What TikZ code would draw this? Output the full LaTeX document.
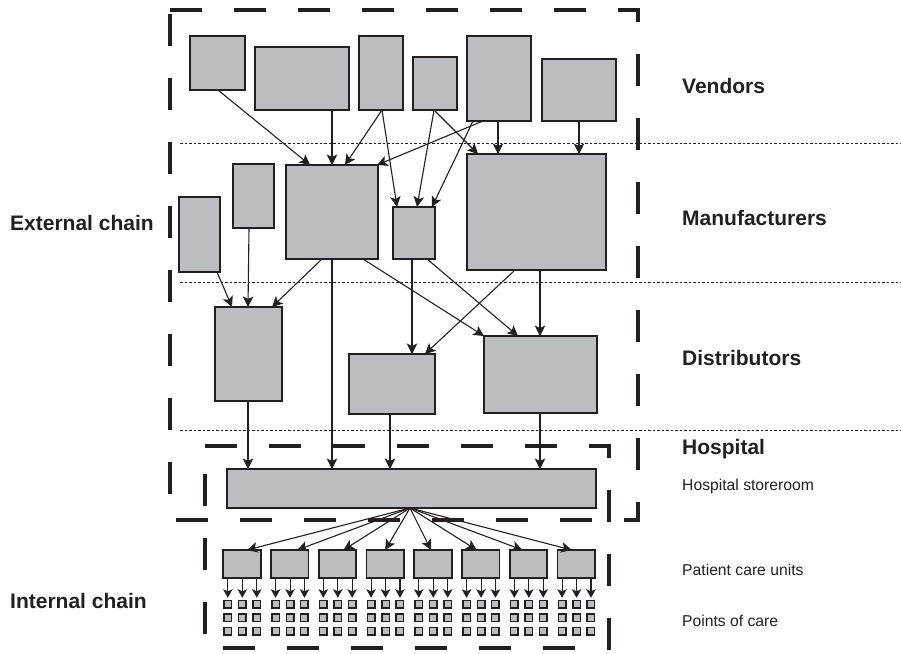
\documentclass[tikz,border=0pt]{standalone}
\usepackage{fontspec}
\setmainfont{Liberation Sans}
\usetikzlibrary{arrows.meta,calc}
\definecolor{boxgray}{RGB}{188,189,193}
\definecolor{ink}{RGB}{35,31,32}
\tikzset{
 box/.style={draw=ink, line width=1.8pt, fill=boxgray, inner sep=0pt, outer sep=0pt, anchor=north west},
 arr/.style={draw=ink, line width=1.1pt, -{Stealth[length=10.5pt,width=10.5pt,inset=2.5pt]}},
 sarr/.style={draw=ink, line width=1.1pt, -{Stealth[length=8.5pt,width=9.5pt,inset=2pt]}},
 frame/.style={draw=ink, line width=3.3pt, dash pattern=on 32pt off 32pt},
 sep/.style={draw=ink, line width=0.8pt, dash pattern=on 2.5pt off 2pt},
 head/.style={anchor=base west, inner sep=0pt, font=\fontsize{21}{25}\selectfont\bfseries, text=ink},
 sub/.style={anchor=base west, inner sep=0pt, font=\fontsize{15.7}{18}\selectfont, text=ink},
 dot/.style={draw=ink, line width=1.5pt, fill=boxgray, minimum size=7.5pt, inner sep=0pt, outer sep=0pt},
}
\newcommand\bx[5]{\node[box, minimum width={(#4-#2)*1pt}, minimum height={(#5-#3)*1pt}] (#1) at (#2,#3) {};}
\newcommand\ar[4]{\draw[arr] ($(#1.south west)+(#2,0)$) -- ($(#3.north west)+(#4,0)$);}
\begin{document}
\begin{tikzpicture}[x=1pt,y=-1pt]
\useasboundingbox (0,0) rectangle (901,653);
% separators
\coordinate (s1a) at (180,143); \coordinate (s1b) at (901,143);
\coordinate (s2a) at (180,282); \coordinate (s2b) at (901,282);
\coordinate (s3a) at (180,430); \coordinate (s3b) at (901,430);
\draw[sep] (s1a) -- (s1b);
\draw[sep] (s2a) -- (s2b);
\draw[sep] (s3a) -- (s3b);
% frames
\draw[frame] (170,10) -- (638,10) -- (638,520) -- (170,520) -- cycle;
\draw[frame] (205,446) -- (609,446) -- (609,648) -- (205,648) -- cycle;
% vendors
\bx{v1}{190}{36}{245}{90}
\bx{v2}{255}{47}{349}{110}
\bx{v3}{359}{36}{403}{110}
\bx{v4}{413}{57}{457}{110}
\bx{v5}{467}{36}{531}{121}
\bx{v6}{542}{59}{616}{121}
% manufacturers
\bx{m1}{179}{197}{220}{272}
\bx{m2}{233}{164}{274}{228}
\bx{m3}{286}{165}{378}{259}
\bx{m4}{393}{207}{435}{259}
\bx{m5}{467}{154}{606}{270}
% distributors
\bx{d1}{215}{307}{282}{401}
\bx{d2}{349}{354}{435}{414}
\bx{d3}{484}{336}{597}{413}
% storeroom
\bx{s}{227}{469}{596}{508}
% vendor -> manufacturer
\ar{v1}{28}{m3}{24}
\ar{v2}{77}{m3}{46}
\ar{v3}{23}{m3}{59}
\ar{v3}{23}{m4}{4}
\ar{v4}{21}{m4}{24}
\ar{v4}{21}{m5}{11}
\ar{v5}{16}{m3}{91}
\ar{v5}{6}{m4}{39}
\ar{v5}{31}{m5}{31}
\ar{v6}{37}{m5}{112}
% manufacturer -> distributor
\ar{m1}{38}{d1}{17}
\ar{m2}{16}{d1}{33}
\ar{m3}{36}{d1}{57}
\ar{m3}{46}{s}{105}
\ar{m3}{77}{d3}{0}
\ar{m4}{19}{d2}{63}
\ar{m4}{34}{d3}{34}
\ar{m5}{48}{d2}{76}
\ar{m5}{73}{d3}{56}
% distributor -> storeroom
\ar{d1}{33}{s}{21}
\ar{d2}{41}{s}{163}
\ar{d3}{56}{s}{313}
% internal chain
\coordinate (hub) at ($(s.south west)+(183,0)$);
\foreach \i/\off in {0/5,1/7.5,2/6,3/0,4/-2,5/-4,6/-6,7/-4.5} {
  \pgfmathsetmacro\c{242+47.75*\i}
  \node[box, anchor=north, minimum width=37.5pt, minimum height=28pt] (p\i) at (\c,550) {};
  \draw[arr] (hub) -- ($(p\i.north)+(\off,0)$);
  \foreach \k/\dx in {0/-14.2,1/0.3,2/14.7} {
    \foreach \r/\yy in {0/604,1/617.5,2/631} {
      \node[dot] (q\i\k\r) at (\c+\dx,\yy) {};
    }
    \draw[sarr, shorten >=2.5pt] (q\i\k0.north |- p\i.south) -- (q\i\k0.north);
  }
}
% labels
\node[head] (vend) at (682,93.3) {Vendors};
\node[head] (manu) at (682,225.7) {Manufacturers};
\node[head] (dist) at (682,365.7) {Distributors};
\node[head] (hosp) at (682,454.3) {Hospital};
\node[sub] (store) at (682,490) {Hospital storeroom};
\node[sub] (pcul) at (682,575) {Patient care units};
\node[sub] (pocl) at (682,626) {Points of care};
\node[head] (ext) at (10,230) {External chain};
\node[head] (intl) at (10,608) {Internal chain};
\end{tikzpicture}
\end{document}
